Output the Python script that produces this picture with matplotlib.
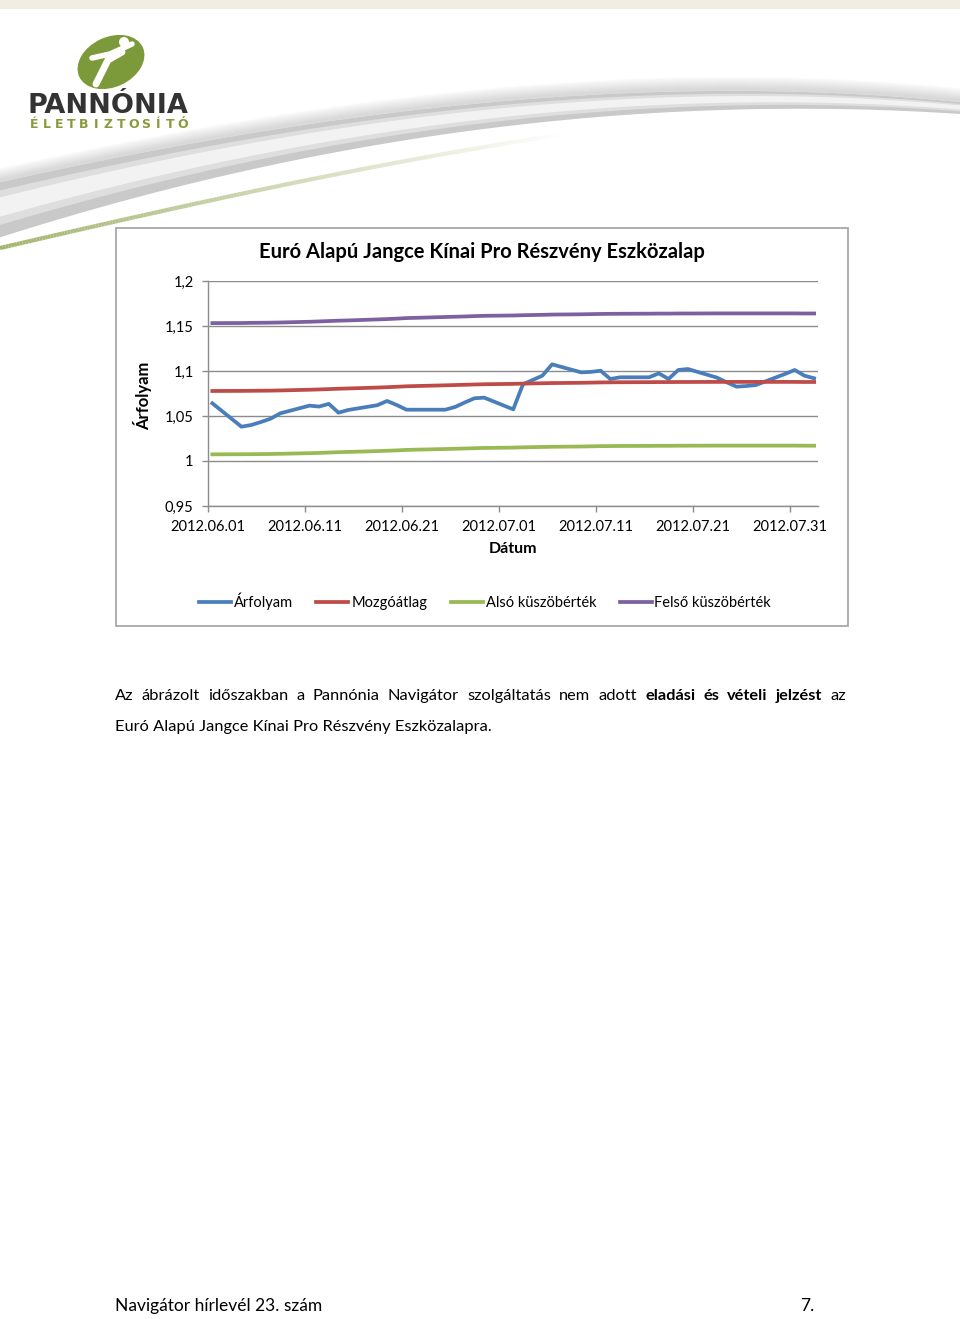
import numpy as np
import pandas as pd
import matplotlib
matplotlib.use("Agg")
import matplotlib.pyplot as plt
import matplotlib.dates as mdates
from matplotlib.patches import Rectangle, Ellipse, Circle

plt.rcParams['font.family'] = ['Lato', 'DejaVu Sans']

# kereskedesi napok es ertekek (leolvasva)
dates = ['2012.06.01', '2012.06.04', '2012.06.05', '2012.06.06', '2012.06.07', '2012.06.08',
         '2012.06.11', '2012.06.12', '2012.06.13', '2012.06.14', '2012.06.15',
         '2012.06.18', '2012.06.19', '2012.06.20', '2012.06.21', '2012.06.22',
         '2012.06.25', '2012.06.26', '2012.06.27', '2012.06.28', '2012.06.29',
         '2012.07.02', '2012.07.03', '2012.07.04', '2012.07.05', '2012.07.06',
         '2012.07.09', '2012.07.10', '2012.07.11', '2012.07.12', '2012.07.13',
         '2012.07.16', '2012.07.17', '2012.07.18', '2012.07.19', '2012.07.20',
         '2012.07.23', '2012.07.24', '2012.07.25', '2012.07.26', '2012.07.27',
         '2012.07.30', '2012.07.31', '2012.08.01', '2012.08.02']

arfolyam = [1.0641, 1.0381, 1.0400, 1.0433, 1.0470, 1.0530, 1.0615, 1.0605, 1.0635, 1.0537,
            1.0567, 1.0620, 1.0667, 1.0622, 1.0570, 1.0570, 1.0570, 1.0600, 1.0650, 1.0697,
            1.0704, 1.0574, 1.0852, 1.0900, 1.0948, 1.1074, 1.0985, 1.0990, 1.1003, 1.0911,
            1.0930, 1.0930, 1.0974, 1.0911, 1.1011, 1.1022, 1.0926, 1.0874, 1.0826, 1.0833,
            1.0844, 1.0967, 1.1011, 1.0948, 1.0919]

mozgoatlag = [1.0778, 1.0779, 1.0780, 1.0781, 1.0782, 1.0784, 1.0792, 1.0795, 1.0799, 1.0803,
              1.0806, 1.0816, 1.0820, 1.0825, 1.0830, 1.0833, 1.0841, 1.0844, 1.0847, 1.0850,
              1.0853, 1.0857, 1.0860, 1.0862, 1.0864, 1.0866, 1.0869, 1.0871, 1.0873, 1.0874,
              1.0875, 1.0876, 1.0877, 1.0877, 1.0878, 1.0878, 1.0879, 1.0879, 1.0879, 1.0879,
              1.0879, 1.0879, 1.0879, 1.0878, 1.0878]

also_kuszob = [1.0074, 1.0075, 1.0076, 1.0077, 1.0078, 1.0080, 1.0087, 1.0090, 1.0094, 1.0098,
               1.0101, 1.0110, 1.0114, 1.0118, 1.0123, 1.0126, 1.0133, 1.0136, 1.0139, 1.0142,
               1.0145, 1.0149, 1.0152, 1.0154, 1.0156, 1.0158, 1.0161, 1.0163, 1.0165, 1.0166,
               1.0167, 1.0168, 1.0169, 1.0169, 1.0170, 1.0170, 1.0171, 1.0171, 1.0171, 1.0171,
               1.0171, 1.0171, 1.0171, 1.0170, 1.0170]

felso_kuszob = [1.1532, 1.1533, 1.1535, 1.1536, 1.1537, 1.1539, 1.1547, 1.1551, 1.1555, 1.1559,
                1.1562, 1.1573, 1.1577, 1.1582, 1.1588, 1.1591, 1.1600, 1.1603, 1.1606, 1.1610,
                1.1613, 1.1617, 1.1620, 1.1622, 1.1624, 1.1627, 1.1630, 1.1632, 1.1634, 1.1635,
                1.1636, 1.1637, 1.1638, 1.1638, 1.1639, 1.1639, 1.1640, 1.1640, 1.1640, 1.1640,
                1.1640, 1.1640, 1.1640, 1.1639, 1.1639]

series_names = ['Árfolyam', 'Mozgóátlag', 'Alsó küszöbérték', 'Felső küszöbérték']
series_colors = ['#4a7ebb', '#be4b48', '#98b954', '#7d60a0']

y_ticks = [0.95, 1.0, 1.05, 1.1, 1.15, 1.2]
y_labels = ['0,95', '1', '1,05', '1,1', '1,15', '1,2']
x_ticks = ['2012.06.01', '2012.06.11', '2012.06.21', '2012.07.01',
           '2012.07.11', '2012.07.21', '2012.07.31']

title = 'Euró Alapú Jangce Kínai Pro Részvény Eszközalap'

W, H = 960, 1319
fig = plt.figure(figsize=(W / 100, H / 100), dpi=100)
fig.patch.set_facecolor('white')

# hatter: pixel koordinatak
bg = fig.add_axes([0, 0, 1, 1], zorder=-1)
bg.set_xlim(0, W)
bg.set_ylim(H, 0)
bg.axis('off')

# fejlec csik
bg.add_patch(Rectangle((0, 0), W, 9, color='#efeee0', lw=0))

# iv (swoosh)
xs = np.linspace(0, W, 400)
top = np.polyval(np.polyfit([0, 245, 490, 700, 960], [182, 135, 101, 92, 102], 3), xs)
bot = np.polyval(np.polyfit([0, 122, 367, 612, 800, 960], [238, 200, 148, 115, 109, 114], 3), xs)
for k in range(12):
    bg.fill_between(xs, top - 14 + k, top, color='#9a9a9a', alpha=0.03, lw=0)
bg.fill_between(xs, top, bot, color='#c9c9c9', lw=0)
mid = (top + bot) / 2
half = (bot - top) / 2
bg.fill_between(xs, mid - half * 0.7, mid + half * 0.55, color='#dedede', lw=0)
bg.fill_between(xs, mid - half * 0.45, mid + half * 0.25, color='#f2f2f2', lw=0)
gx = np.linspace(0, 560, 200)
gy = np.polyval(np.polyfit([0, 100, 250, 400, 560], [248, 225, 192, 162, 135], 3), gx)
for i in range(len(gx) - 1):
    alpha = max(0.0, 1 - gx[i] / 560)
    bg.plot(gx[i:i + 2], gy[i:i + 2], color='#a3b46e', lw=3, alpha=alpha, solid_capstyle='butt')

# logo
bg.add_patch(Ellipse((111, 62), 70, 50, angle=-25, color='#7d9a3a', lw=0))
bg.plot([96, 108, 122], [84, 60, 52], color='white', lw=5, solid_capstyle='round')
bg.plot([92, 110, 132], [58, 54, 44], color='white', lw=4, solid_capstyle='round')
bg.add_patch(Circle((124, 42), 5, color='white', lw=0))
bg.text(27, 106, 'PANNÓNIA', family='DejaVu Sans', weight='bold', fontsize=19.5,
        color='#333333', ha='left', va='center')
for i, ch in enumerate('ÉLETBIZTOSÍTÓ'):
    bg.text(34 + 12.4 * i, 125, ch, family='DejaVu Sans', fontsize=9, weight='bold',
            color='#8a9a3a', ha='center', va='center')

# diagram keret
bg.add_patch(Rectangle((116, 228), 732, 398, facecolor='white', edgecolor='#a8a8a8', lw=1.3))
bg.text(482, 252, title, fontsize=14.5, weight='bold', ha='center', va='center')

# grafikon
x = pd.to_datetime(dates, format='%Y.%m.%d') + pd.Timedelta(hours=12)
ax = fig.add_axes([207.5 / W, 1 - 506 / H, (818 - 207.5) / W, 225 / H])
ax.set_facecolor('white')
for vals, name, col in zip([arfolyam, mozgoatlag, also_kuszob, felso_kuszob],
                           series_names, series_colors):
    ax.plot(x, vals, color=col, lw=2.7, label=name, solid_joinstyle='round')

start = pd.Timestamp('2012-06-01')
ax.set_xlim(start, start + pd.Timedelta(days=62.9))
ax.set_ylim(0.95, 1.2)
ax.set_yticks(y_ticks)
ax.set_yticklabels(y_labels)
ax.set_xticks(pd.to_datetime(x_ticks, format='%Y.%m.%d'))
ax.xaxis.set_major_formatter(mdates.DateFormatter('%Y.%m.%d'))
ax.grid(axis='y', color='#8c8c8c', lw=1)
ax.set_axisbelow(True)
for s in ['top', 'right']:
    ax.spines[s].set_visible(False)
for s in ['left', 'bottom']:
    ax.spines[s].set_color('#8c8c8c')
    ax.spines[s].set_linewidth(1)
ax.tick_params(axis='both', color='#8c8c8c', length=4, width=1, labelsize=10.5)
ax.tick_params(axis='y', pad=6)
ax.tick_params(axis='x', pad=6)

ax.set_ylabel('Árfolyam', fontsize=12, weight='bold')
ax.yaxis.set_label_coords((152 - 207.5) / 610.5, 0.49)
ax.set_xlabel('Dátum', fontsize=11.5, weight='bold')
ax.xaxis.set_label_coords((513 - 207.5) / 610.5, (506 - 549) / 225)
ax.xaxis.label.set_va('center')

fig.legend(loc='center', bbox_to_anchor=(485 / W, 1 - 601 / H), ncol=4, frameon=False,
           fontsize=10.5, handlelength=2.2, handletextpad=0.2, columnspacing=1.6)

# szoveg (sorkizart elso sor)
renderer = fig.canvas.get_renderer()
line1 = [('Az', False), ('ábrázolt', False), ('időszakban', False), ('a', False),
         ('Pannónia', False), ('Navigátor', False), ('szolgáltatás', False), ('nem', False),
         ('adott', False), ('eladási', True), ('és', True), ('vételi', True),
         ('jelzést', True), ('az', False)]
body_size = 11.8
items = []
total = 0
for word, bold in line1:
    t = bg.text(0, 696, word, fontsize=body_size, weight='bold' if bold else 'normal',
                ha='left', va='center')
    w = t.get_window_extent(renderer).width
    items.append((t, w))
    total += w
gap = (846 - 115 - total) / (len(items) - 1)
xpos = 115
for t, w in items:
    t.set_x(xpos)
    xpos += w + gap
bg.text(115, 727, 'Euró Alapú Jangce Kínai Pro Részvény Eszközalapra.', fontsize=body_size,
        ha='left', va='center')

# lablec
bg.text(115, 1306, 'Navigátor hírlevél 23. szám', fontsize=12.5, ha='left', va='center')
bg.text(814, 1306, '7.', fontsize=12.5, ha='right', va='center')

fig.savefig('out.png', dpi=100)
